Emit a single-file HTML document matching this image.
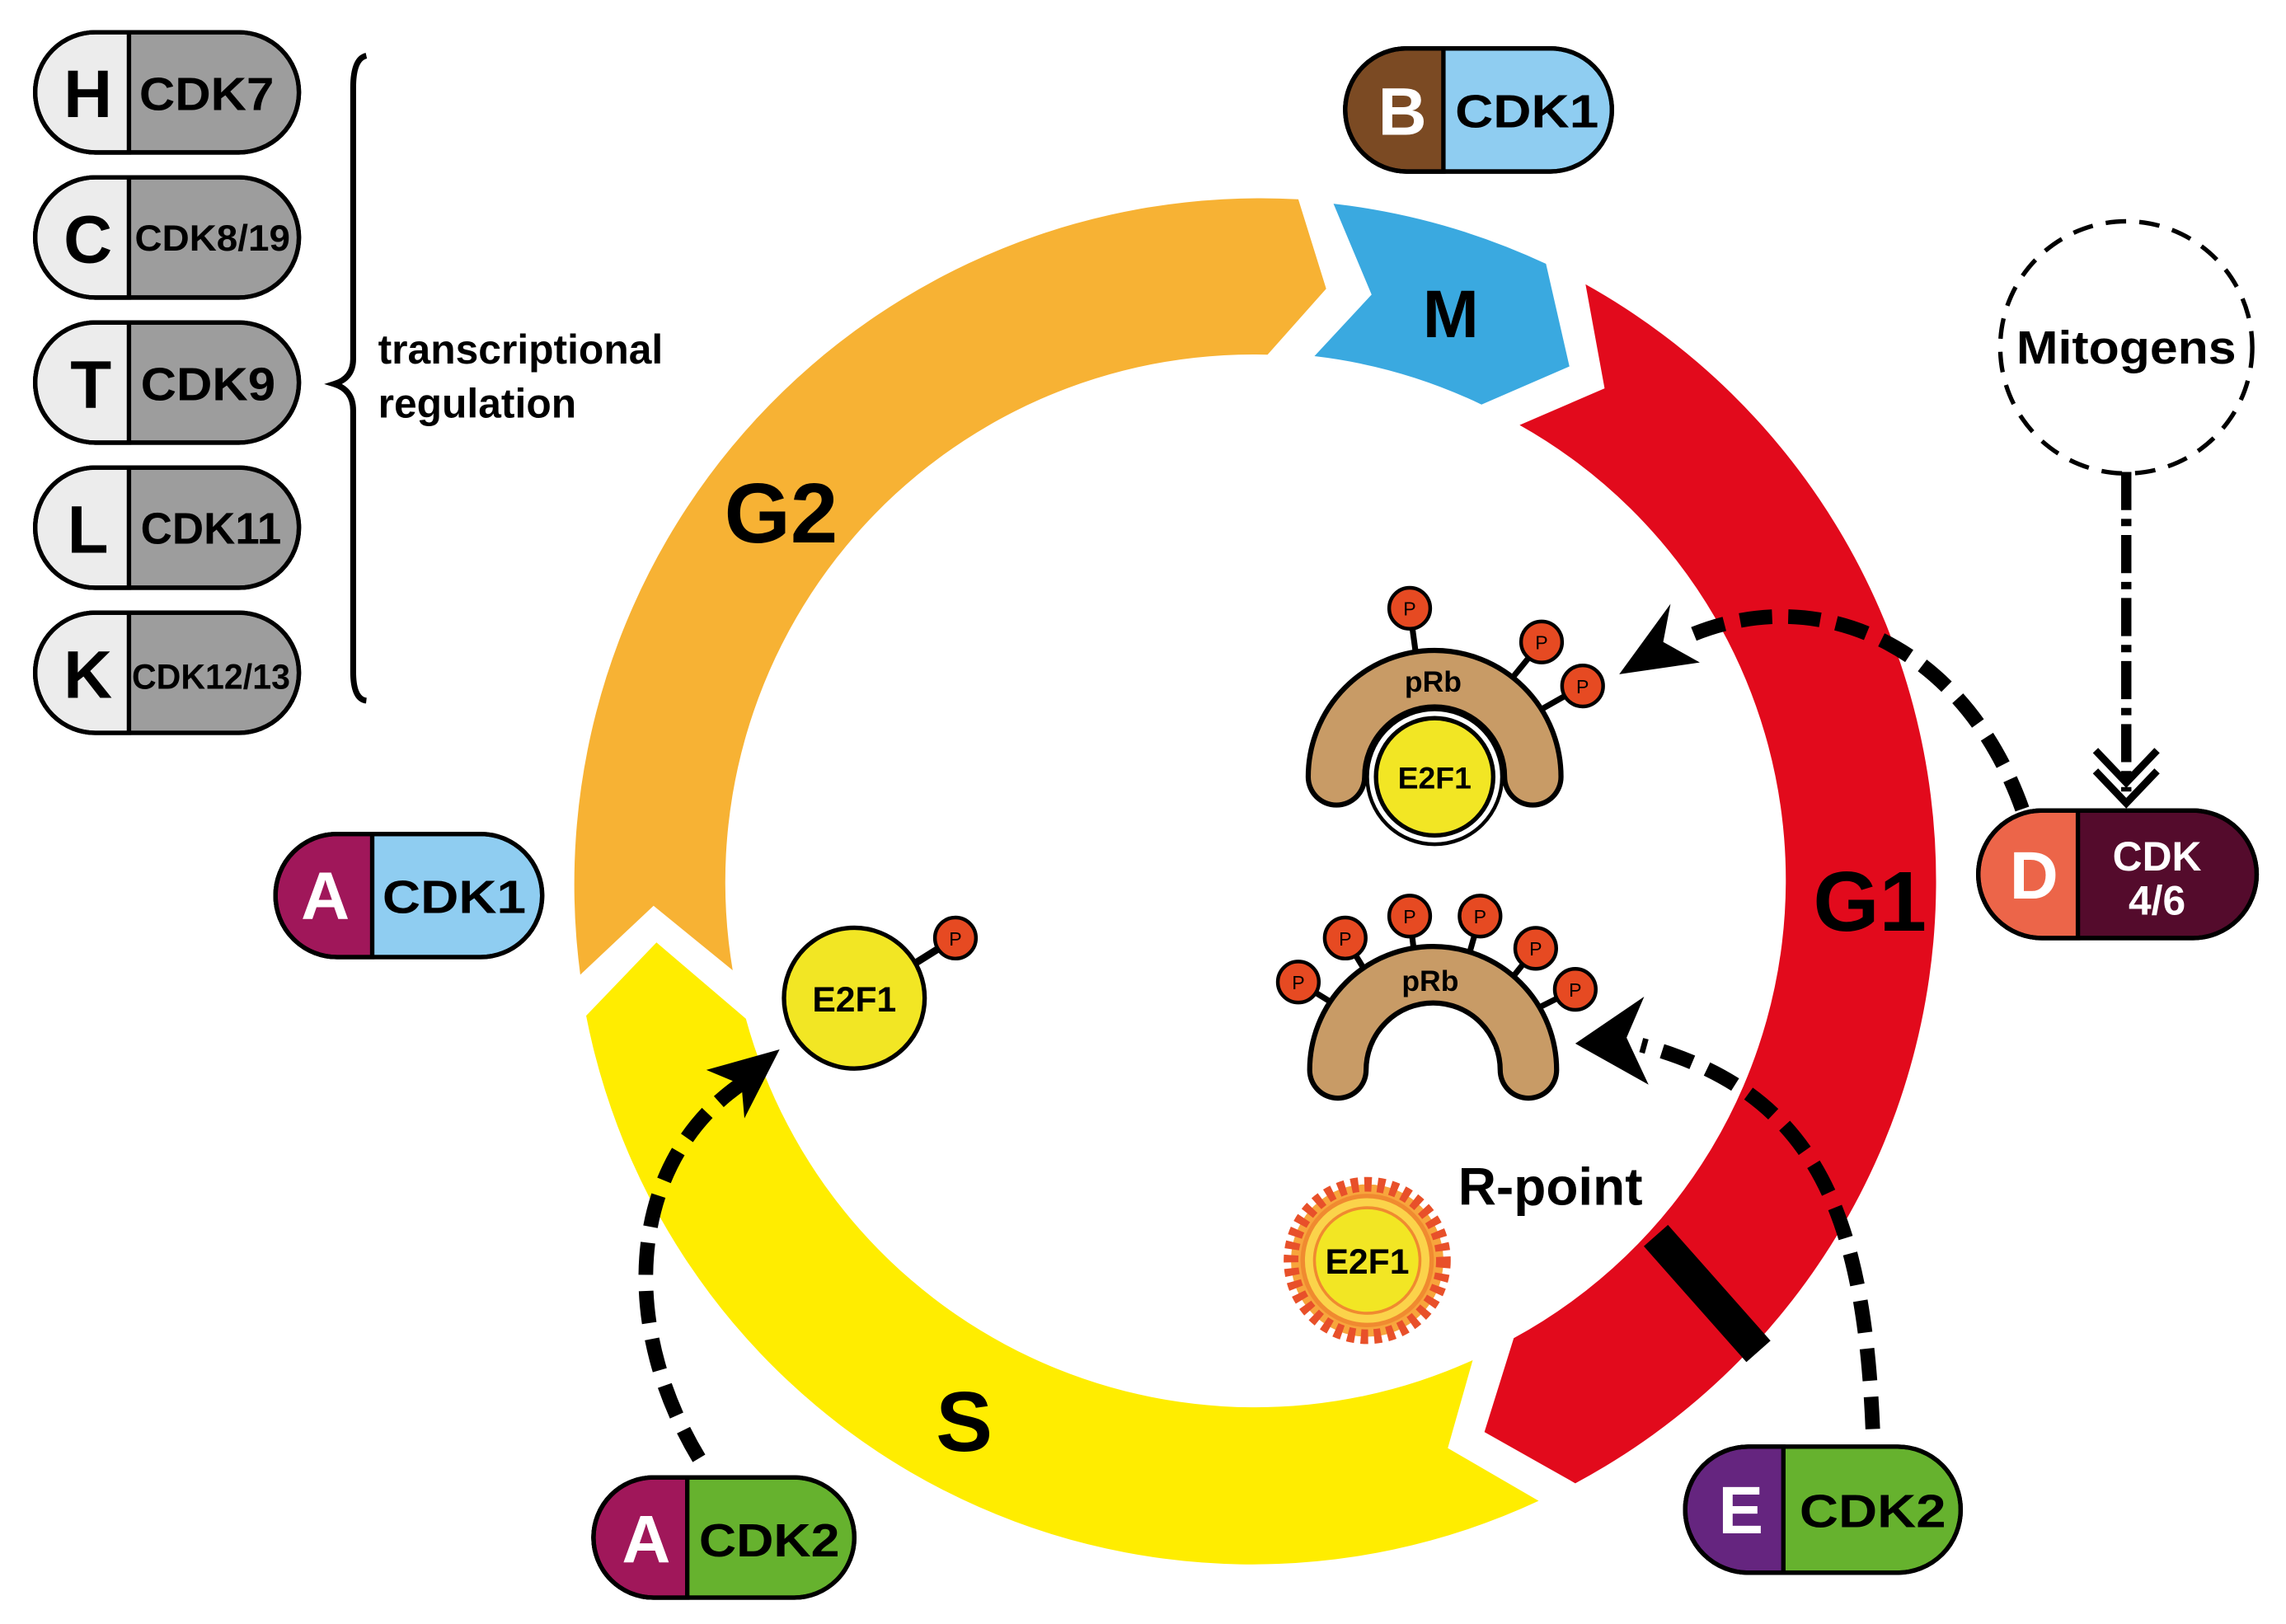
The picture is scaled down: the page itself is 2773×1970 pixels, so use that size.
<!DOCTYPE html>
<html><head><meta charset="utf-8"><style>html,body{margin:0;padding:0;background:#fff}svg{display:block}</style></head>
<body>
<svg width="2773" height="1970" viewBox="0 0 1560 1108" preserveAspectRatio="none" xmlns="http://www.w3.org/2000/svg" font-family="'Liberation Sans', sans-serif" font-weight="bold">
<rect width="1560" height="1108" fill="#fff"/>
<path d="M396 665 A468 468 0 0 1 886 136 L905 197 L865 242 A360 360 0 0 0 500 662 L446 618 Z" fill="#f7b234"/>
<path d="M910 139 A468 468 0 0 1 1055 180 L1071 250 L1011 276 A360 360 0 0 0 897 243 L936 201 Z" fill="#3aa9e0"/>
<path d="M1082 194 A466 466 0 0 1 1075 1012 L1013 977 L1033 913 A356 356 0 0 0 1037 290 L1095 265 Z" fill="#e20a1c"/>
<path d="M1050 1024 A463 463 0 0 1 400 693 L448 643 L509 695 A360 360 0 0 0 1005 928 L988 988 Z" fill="#ffed00"/>
<line x1="1130" y1="843" x2="1200" y2="922" stroke="#000" stroke-width="22"/>
<text x="533" y="370" font-size="58" text-anchor="middle">G2</text>
<text x="990" y="230" font-size="46" text-anchor="middle">M</text>
<text x="1276" y="635" font-size="58" text-anchor="middle">G1</text>
<text x="658" y="990" font-size="58" text-anchor="middle">S</text>
<g stroke="#000" stroke-width="3">
<rect x="24" y="22" width="180" height="82" rx="41" fill="#9d9d9d"/><path d="M88 22 L65 22 A41 41 0 0 0 65 104 L88 104 Z" fill="#ececec"/><rect x="24" y="22" width="180" height="82" rx="41" fill="none"/>
<rect x="24" y="121" width="180" height="82" rx="41" fill="#9d9d9d"/><path d="M88 121 L65 121 A41 41 0 0 0 65 203 L88 203 Z" fill="#ececec"/><rect x="24" y="121" width="180" height="82" rx="41" fill="none"/>
<rect x="24" y="220" width="180" height="82" rx="41" fill="#9d9d9d"/><path d="M88 220 L65 220 A41 41 0 0 0 65 302 L88 302 Z" fill="#ececec"/><rect x="24" y="220" width="180" height="82" rx="41" fill="none"/>
<rect x="24" y="319" width="180" height="82" rx="41" fill="#9d9d9d"/><path d="M88 319 L65 319 A41 41 0 0 0 65 401 L88 401 Z" fill="#ececec"/><rect x="24" y="319" width="180" height="82" rx="41" fill="none"/>
<rect x="24" y="418" width="180" height="82" rx="41" fill="#9d9d9d"/><path d="M88 418 L65 418 A41 41 0 0 0 65 500 L88 500 Z" fill="#ececec"/><rect x="24" y="418" width="180" height="82" rx="41" fill="none"/>
</g>
<g font-size="46" text-anchor="middle">
<text x="60" y="80">H</text><text x="60" y="179">C</text><text x="62" y="278">T</text><text x="60" y="377">L</text><text x="60" y="476">K</text>
</g>
<text x="95" y="75" font-size="32" textLength="92" lengthAdjust="spacingAndGlyphs">CDK7</text>
<text x="92" y="171" font-size="25" textLength="106" lengthAdjust="spacingAndGlyphs">CDK8/19</text>
<text x="96" y="273" font-size="32" textLength="92" lengthAdjust="spacingAndGlyphs">CDK9</text>
<text x="96" y="371" font-size="30" textLength="96" lengthAdjust="spacingAndGlyphs">CDK11</text>
<text x="90" y="470" font-size="24" textLength="108" lengthAdjust="spacingAndGlyphs">CDK12/13</text>
<path d="M250 38 Q241 40 241 60 L241 245 Q241 258 228 262 Q241 266 241 280 L241 458 Q241 477 250 478" fill="none" stroke="#000" stroke-width="4"/>
<text x="258" y="248" font-size="28">transcriptional</text>
<text x="258" y="285" font-size="28">regulation</text>
<g stroke="#000" stroke-width="3">
<rect x="918" y="33" width="182" height="84" rx="42" fill="#8fcdf1"/><path d="M985 33 L960 33 A42 42 0 0 0 960 117 L985 117 Z" fill="#7b4a23"/><rect x="918" y="33" width="182" height="84" rx="42" fill="none"/>
<rect x="1350" y="553" width="190" height="87" rx="43.5" fill="#540b2c"/><path d="M1418 553 L1393.5 553 A43.5 43.5 0 0 0 1393.5 640 L1418 640 Z" fill="#ec6549"/><rect x="1350" y="553" width="190" height="87" rx="43.5" fill="none"/>
<rect x="188" y="569" width="182" height="84" rx="42" fill="#8fcdf1"/><path d="M254 569 L230 569 A42 42 0 0 0 230 653 L254 653 Z" fill="#a0175a"/><rect x="188" y="569" width="182" height="84" rx="42" fill="none"/>
<rect x="405" y="1008" width="178" height="82" rx="41" fill="#66b22e"/><path d="M469 1008 L446 1008 A41 41 0 0 0 446 1090 L469 1090 Z" fill="#a0175a"/><rect x="405" y="1008" width="178" height="82" rx="41" fill="none"/>
<rect x="1150" y="987" width="188" height="86" rx="43" fill="#66b22e"/><path d="M1217 987 L1193 987 A43 43 0 0 0 1193 1073 L1217 1073 Z" fill="#65257f"/><rect x="1150" y="987" width="188" height="86" rx="43" fill="none"/>
</g>
<g font-size="46" text-anchor="middle" fill="#fff">
<text x="957" y="92">B</text><text x="1388" y="613">D</text><text x="222" y="627">A</text><text x="441" y="1066">A</text><text x="1188" y="1046">E</text>
</g>
<text x="993" y="87" font-size="32" textLength="98" lengthAdjust="spacingAndGlyphs">CDK1</text>
<text x="261" y="623" font-size="32" textLength="98" lengthAdjust="spacingAndGlyphs">CDK1</text>
<text x="477" y="1062" font-size="32" textLength="96" lengthAdjust="spacingAndGlyphs">CDK2</text>
<text x="1228" y="1042" font-size="32" textLength="100" lengthAdjust="spacingAndGlyphs">CDK2</text>
<text x="1472" y="594" font-size="28" fill="#fff" text-anchor="middle">CDK</text>
<text x="1472" y="624" font-size="28" fill="#fff" text-anchor="middle">4/6</text>
<circle cx="1451" cy="237" r="86" fill="none" stroke="#000" stroke-width="3" stroke-dasharray="14 9"/>
<text x="1451" y="248" font-size="32" text-anchor="middle" textLength="150" lengthAdjust="spacingAndGlyphs">Mitogens</text>
<path d="M1451 322 L1451 540" stroke="#000" stroke-width="7" stroke-dasharray="26 6 5 6"/>
<path d="M1430 512 L1451 534 L1472 512 M1430 526 L1451 548 L1472 526" fill="none" stroke="#000" stroke-width="5"/>
<g stroke="#000" stroke-width="4">
<line x1="962" y1="415" x2="967" y2="452"/><line x1="1052" y1="438" x2="1030" y2="465"/><line x1="1080" y1="468" x2="1050" y2="485"/>
</g>
<path d="M912 530 A67 67 0 0 1 1046 530" fill="none" stroke="#000" stroke-width="42" stroke-linecap="round"/>
<path d="M912 530 A67 67 0 0 1 1046 530" fill="none" stroke="#c89b66" stroke-width="35" stroke-linecap="round"/>
<circle cx="979" cy="530" r="46" fill="#fff" stroke="#000" stroke-width="2.5"/>
<circle cx="979" cy="530" r="40" fill="#f2e624" stroke="#000" stroke-width="3"/>
<text x="979" y="538" font-size="21" text-anchor="middle">E2F1</text>
<text x="978" y="472" font-size="20" text-anchor="middle">pRb</text>
<g fill="#e64a22" stroke="#000" stroke-width="2.5">
<circle cx="962" cy="415" r="14"/><circle cx="1052" cy="438" r="14"/><circle cx="1080" cy="468" r="14"/>
</g>
<g font-size="13" font-weight="normal" text-anchor="middle"><text x="962" y="420">P</text><text x="1052" y="443">P</text><text x="1080" y="473">P</text></g>
<g stroke="#000" stroke-width="4">
<line x1="886" y1="670" x2="912" y2="686"/><line x1="918" y1="640" x2="935" y2="668"/><line x1="962" y1="625" x2="966" y2="658"/><line x1="1010" y1="625" x2="1000" y2="660"/><line x1="1048" y1="647" x2="1028" y2="672"/><line x1="1075" y1="675" x2="1045" y2="690"/>
</g>
<path d="M913 730 A65 65 0 0 1 1043 730" fill="none" stroke="#000" stroke-width="42" stroke-linecap="round"/>
<path d="M913 730 A65 65 0 0 1 1043 730" fill="none" stroke="#c89b66" stroke-width="35" stroke-linecap="round"/>
<text x="976" y="676" font-size="20" text-anchor="middle">pRb</text>
<g fill="#e64a22" stroke="#000" stroke-width="2.5">
<circle cx="886" cy="670" r="14"/><circle cx="918" cy="640" r="14"/><circle cx="962" cy="625" r="14"/><circle cx="1010" cy="625" r="14"/><circle cx="1048" cy="647" r="14"/><circle cx="1075" cy="675" r="14"/>
</g>
<g font-size="13" font-weight="normal" text-anchor="middle"><text x="886" y="675">P</text><text x="918" y="645">P</text><text x="962" y="630">P</text><text x="1010" y="630">P</text><text x="1048" y="652">P</text><text x="1075" y="680">P</text></g>
<line x1="620" y1="660" x2="652" y2="640" stroke="#000" stroke-width="5"/>
<circle cx="583" cy="681" r="48" fill="#f2e624" stroke="#000" stroke-width="3"/>
<text x="583" y="690" font-size="24" text-anchor="middle">E2F1</text>
<circle cx="652" cy="640" r="14" fill="#e64a22" stroke="#000" stroke-width="2.5"/>
<text x="652" y="645" font-size="13" font-weight="normal" text-anchor="middle">P</text>
<circle cx="933" cy="860" r="52" fill="#f7a53c" stroke="#e8502a" stroke-width="10" stroke-dasharray="5 4"/>
<circle cx="933" cy="860" r="44" fill="#fbd34a" stroke="#f08a30" stroke-width="3"/>
<circle cx="933" cy="860" r="36" fill="#f2e624" stroke="#f08a30" stroke-width="2"/>
<text x="933" y="869" font-size="24" text-anchor="middle">E2F1</text>
<text x="1058" y="822" font-size="36" text-anchor="middle">R-point</text>
<g fill="none" stroke="#000" stroke-width="10" stroke-dasharray="22 11">
<path d="M1380 552 C1340 440 1240 395 1150 435"/>
<path d="M1278 975 C1272 830 1240 745 1120 713"/>
<path d="M477 995 C420 900 430 790 508 738"/>
</g>
<g fill="#000">
<path d="M1105 460 L1140 412 L1135 438 L1160 452 Z"/>
<path d="M1075 712 L1122 680 L1110 708 L1125 740 Z"/>
<path d="M532 716 L508 763 L506 740 L482 730 Z"/>
</g>
</svg>
</body></html>
